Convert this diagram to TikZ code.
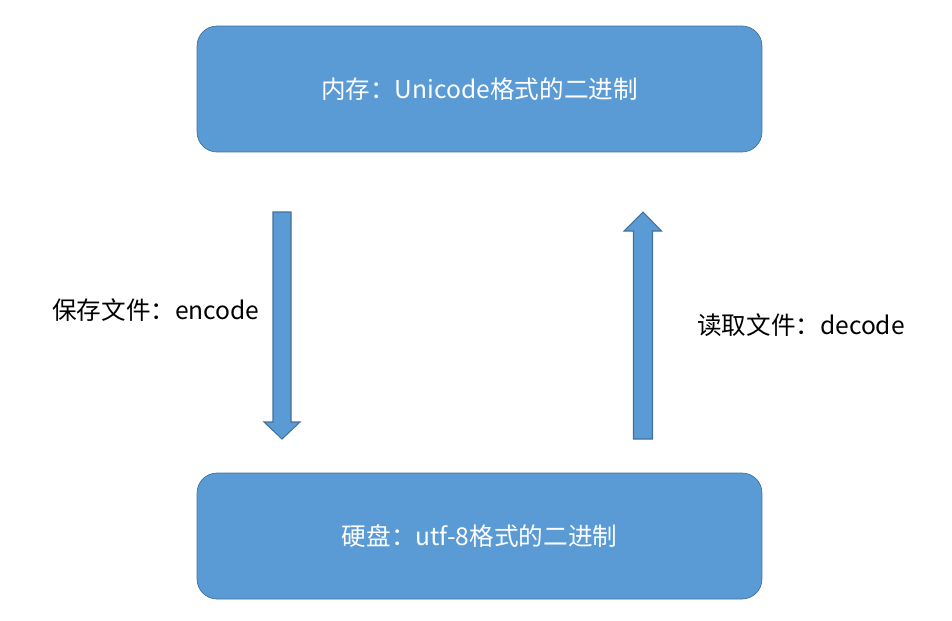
\documentclass[tikz,border=0pt]{standalone}
\usepackage{fontspec}
\setmainfont{Noto Sans CJK SC}
\usepackage{tikz}
\usetikzlibrary{calc}
\definecolor{boxblue}{HTML}{5B9BD5}
\definecolor{edgeblue}{HTML}{41719C}
\tikzset{
  store/.style={draw=edgeblue, fill=boxblue, rounded corners=0.4cm, minimum width=11.3cm, minimum height=2.52cm, text=white, font=\fontsize{14}{17}\selectfont},
  blockarrow/.style={draw=edgeblue, fill=boxblue, line width=0.6pt},
  lbl/.style={font=\fontsize{14}{17}\selectfont, anchor=west}
}
\begin{document}
\begin{tikzpicture}[x=0.02cm,y=-0.02cm]
            \useasboundingbox (0,0) rectangle (952,620);
            \node[store] (mem) at (479.5,89) {内存：Unicode格式的二进制};
            \node[store] (disk) at (479.5,536) {硬盘：utf-8格式的二进制};
            \coordinate (enc) at (282,212);
            \coordinate (dec) at (643,439);
            % save: down arrow
            \draw[blockarrow] (enc) ++(-9,0) -- ++(18,0) -- ++(0,210) -- ++(9,0)
                -- ($(enc)+(0,227)$) -- ++(-18,-17) -- ++(9,0) -- cycle;
            % read: up arrow
            \draw[blockarrow] (dec) ++(-9.5,0) -- ++(19,0) -- ++(0,-208) -- ++(9,0)
                -- ($(dec)+(0,-227)$) -- ++(-19,19) -- ++(9.5,0) -- cycle;
            \node[lbl] (save) at (46,310) {保存文件：encode};
            \node[lbl] (read) at (691,325) {读取文件：decode};
        \end{tikzpicture}
\end{document}
